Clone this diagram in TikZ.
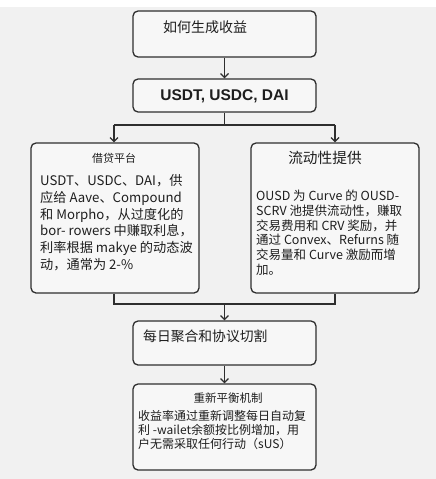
\documentclass[tikz,border=0pt]{standalone}
\usepackage{fontspec}
\setmainfont{Noto Sans CJK SC}
\newfontfamily\latinbold{Liberation Sans}
\usetikzlibrary{arrows.meta}
\definecolor{bgc}{HTML}{F1F1F1}
\definecolor{boxc}{HTML}{F7F7F7}
\definecolor{linec}{HTML}{2E2E2E}
\definecolor{txtc}{HTML}{1E1E1E}
\tikzset{
  box/.style={draw=linec, fill=boxc, line width=1.3pt, rounded corners=5pt, inner sep=0pt},
  conn/.style={draw=linec, line width=1.2pt},
  arr/.style={conn, -{Straight Barb[length=4pt,width=8pt,line width=1.2pt]}},
  txt/.style={inner sep=0pt, text=txtc, align=left},
}
\begin{document}
\begin{tikzpicture}[x=1pt,y=-1pt]
\useasboundingbox (0,0) rectangle (436,479);
\fill[white] (0,0) rectangle (436,479);
\fill[bgc] (0,7) rectangle (436,479);
% boxes
\node[box, minimum width=183pt, minimum height=46pt] (b1) at (224.5,34) {};
\node[box, minimum width=183pt, minimum height=33pt] (b2) at (224.5,95.5) {};
\node[box, minimum width=168pt, minimum height=150pt] (bl) at (115,218) {};
\node[box, minimum width=168pt, minimum height=150pt] (br) at (335,218) {};
\node[box, minimum width=183pt, minimum height=44pt] (b4) at (224.5,343) {};
\node[box, minimum width=183pt, minimum height=86pt] (b5) at (224.5,427) {};
% texts
\node[txt, anchor=west, font=\fontsize{14}{16}\selectfont] (t1) at (163,27) {如何生成收益};
\node[txt, font=\latinbold\bfseries\fontsize{15.5}{18}\selectfont] (t2) at (224.5,96) {USDT, USDC, DAI};
\node[txt, font=\fontsize{11}{13}\selectfont] (tlh) at (114,158) {借贷平台};
\node[txt, anchor=north west, font=\fontsize{13.2}{16.7}\selectfont] (tlb) at (40,174.5) {USDT、USDC、DAI，供\\应给 Aave、Compound\\和 Morpho，从过度化的\\bor- rowers 中赚取利息，\\利率根据 makye 的动态波\\动，通常为 2-\%};
\node[txt, font=\fontsize{14.7}{17}\selectfont] (trh) at (325,158) {流动性提供};
\node[txt, anchor=north west, font=\fontsize{12.5}{14.7}\selectfont] (trb) at (256,190) {OUSD 为 Curve 的 OUSD-\\SCRV 池提供流动性，赚取\\交易费用和 CRV 奖励，并\\通过 Convex、Refurns 随\\交易量和 Curve 激励而增\\加。};
\node[txt, anchor=west, font=\fontsize{13.8}{16}\selectfont] (t4) at (143,336) {每日聚合和协议切割};
\node[txt, font=\fontsize{11.5}{13}\selectfont] (t5h) at (228,398) {重新平衡机制};
\node[txt, anchor=north west, font=\fontsize{12}{14}\selectfont] (t5b) at (138,410) {收益率通过重新调整每日自动复\\利 -wailet余额按比例增加，用\\户无需采取任何行动（sUS）};
% connectors
\coordinate (j1) at (224.5,125);
\coordinate (jl) at (114,125);
\coordinate (jr) at (335,125);
\coordinate (k1) at (224.5,304);
\coordinate (kl) at (114,304);
\coordinate (kr) at (335,304);
\draw[arr] (b1.south) -- (b2.north);
\draw[conn] (b2.south) -- (j1);
\draw[conn] (jl) -- (jr);
\draw[arr] (jl) -- (jl |- bl.north);
\draw[arr] (jr) -- (jr |- br.north);
\draw[conn] (kl |- bl.south) -- (kl) -- (kr) -- (kr |- br.south);
\draw[arr] (k1) -- (b4.north);
\draw[arr] (b4.south) -- (b5.north);
\end{tikzpicture}
\end{document}
